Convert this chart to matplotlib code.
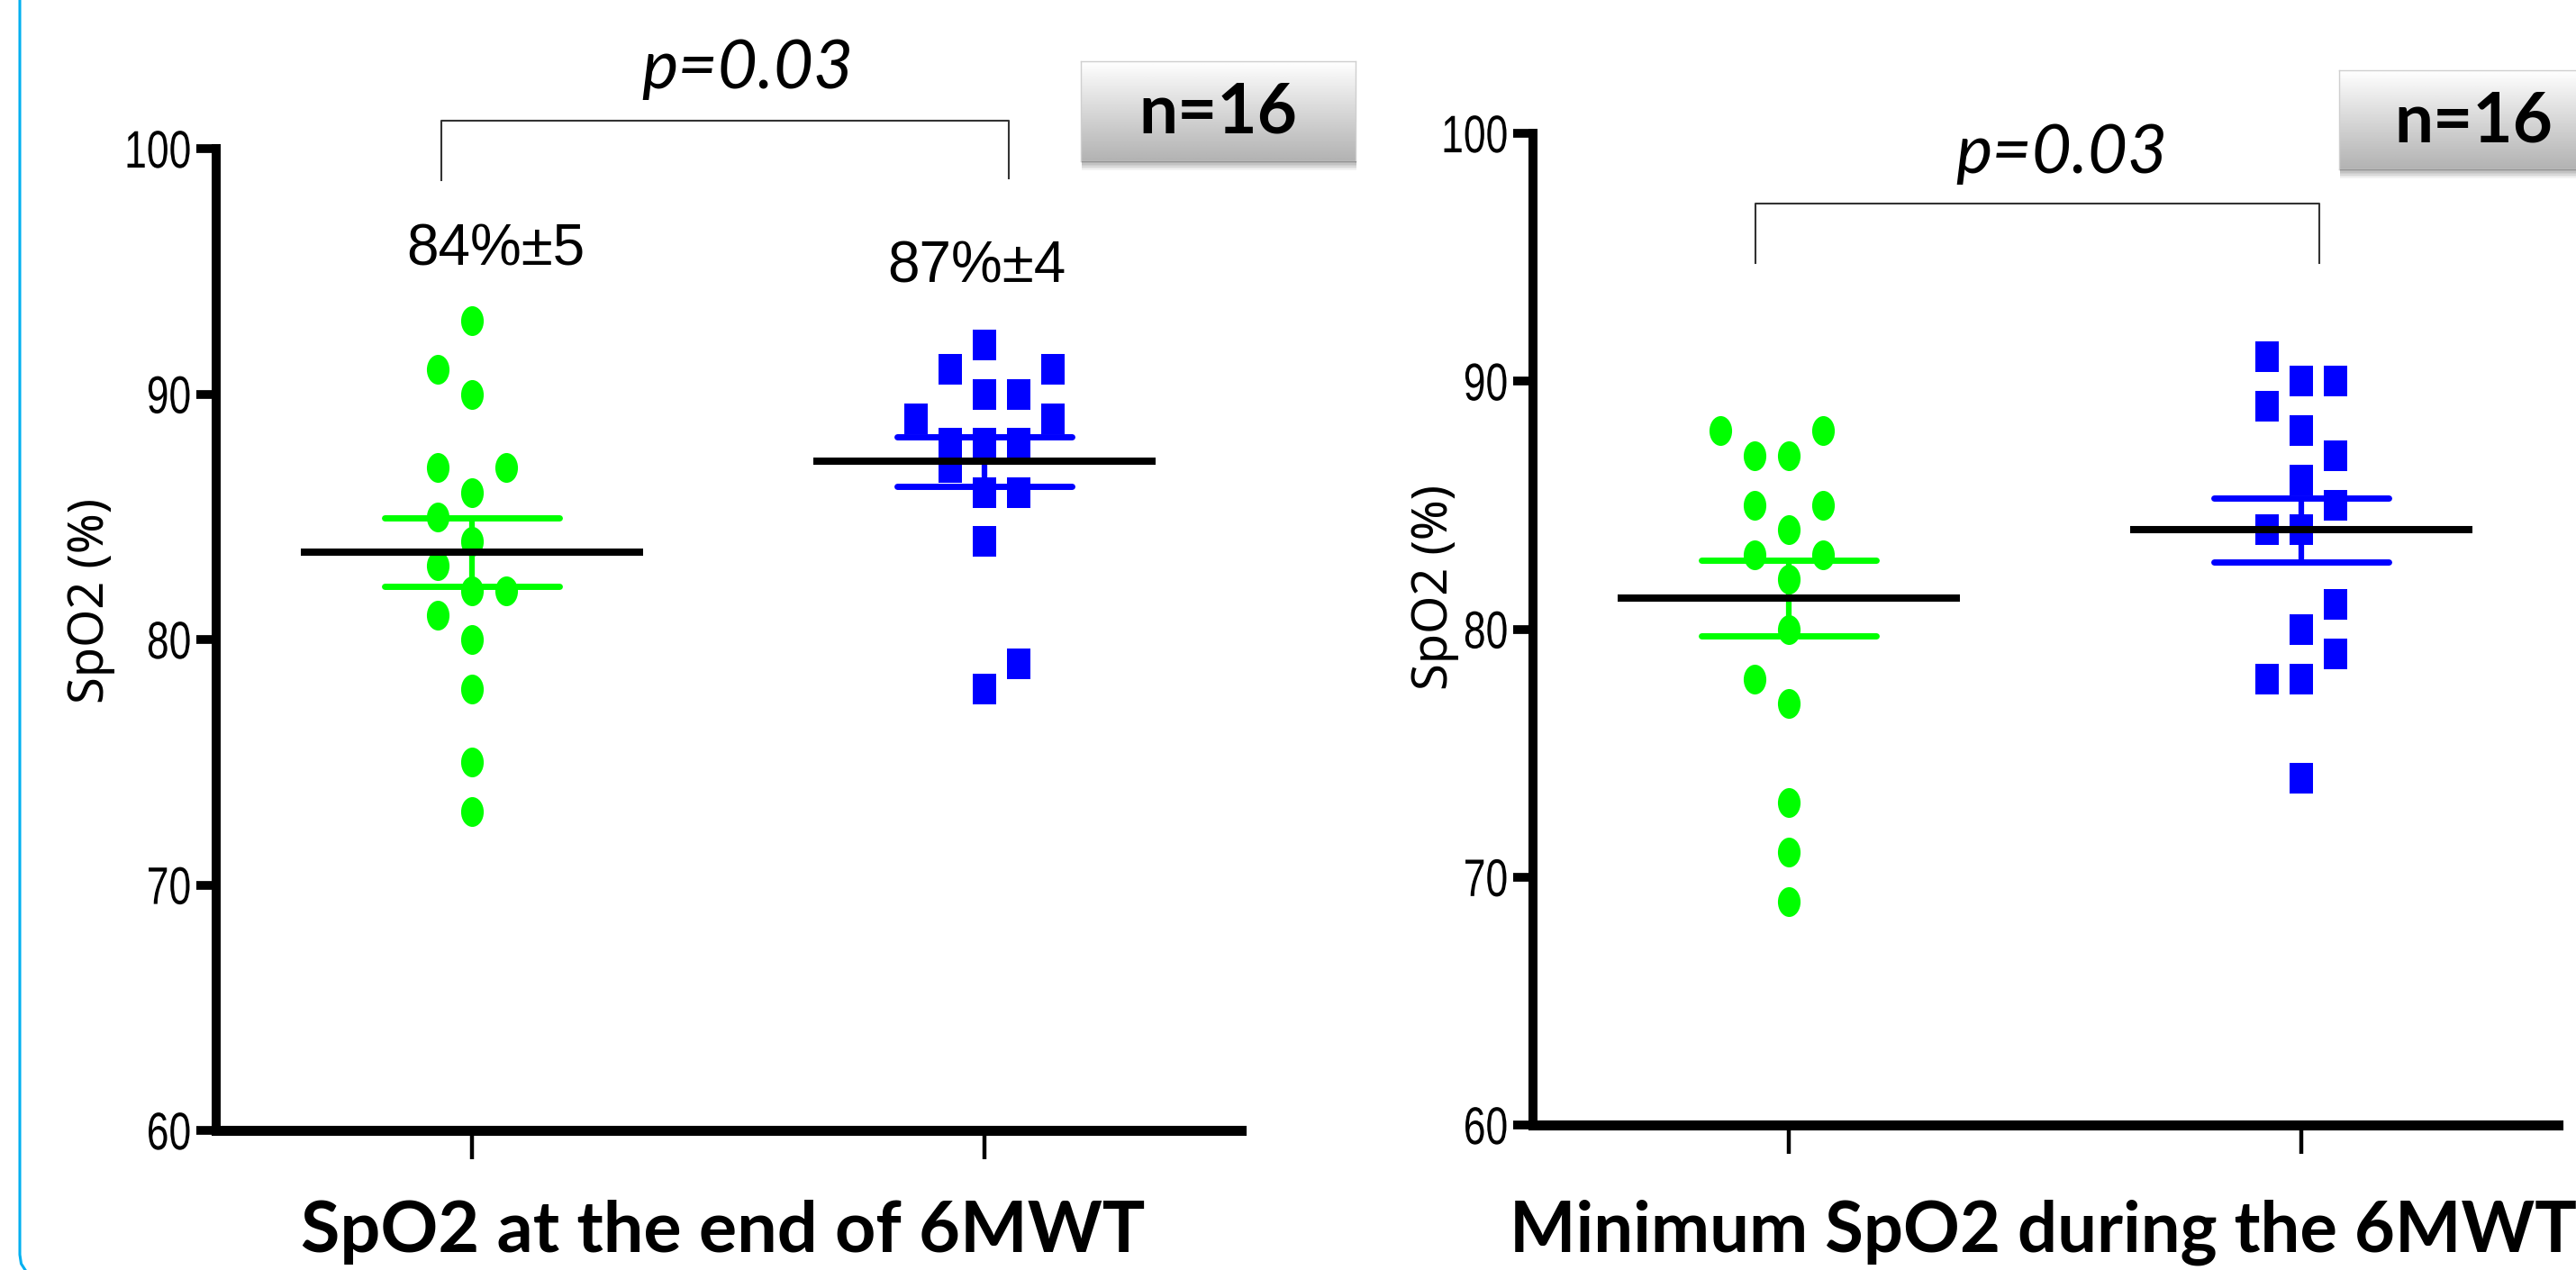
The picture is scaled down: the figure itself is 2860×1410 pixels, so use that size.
import numpy as np
import matplotlib
matplotlib.use("Agg")
import matplotlib.pyplot as plt
from matplotlib.path import Path
from matplotlib.transforms import Affine2D
from matplotlib import font_manager as fm
from matplotlib.patches import Rectangle
from matplotlib.lines import Line2D
from matplotlib.patheffects import AbstractPathEffect

# ---------------- data ----------------
groups = [0, 1]
yticks = [60, 70, 80, 90, 100]
ytick_labels = ["60", "70", "80", "90", "100"]

end_green = [93, 91, 90, 87, 87, 86, 85, 84, 83, 82, 82, 81, 80, 78, 75, 73]
end_blue = [92, 91, 91, 90, 90, 89, 89, 88, 88, 88, 87, 86, 86, 84, 79, 78]
min_green = [88, 88, 87, 87, 85, 85, 84, 83, 83, 82, 80, 78, 77, 73, 71, 69]
min_blue = [91, 90, 90, 89, 88, 87, 86, 85, 84, 84, 81, 80, 79, 78, 78, 74]

# swarm column of each point (layout)
end_green_slot = [0, -1, 0, -1, 1, 0, -1, 0, -1, 0, 1, -1, 0, 0, 0, 0]
end_blue_slot = [0, -1, 2, 0, 1, -2, 2, -1, 0, 1, -1, 0, 1, 0, 1, 0]
min_green_slot = [-2, 1, -1, 0, -1, 1, 0, -1, 1, 0, 0, -1, 0, 0, 0, 0]
min_blue_slot = [-1, 0, 1, -1, 0, 1, 0, 1, -1, 0, 1, 0, 1, -1, 0, 0]

end_labels = ["84%\u00b15", "87%\u00b14"]
p_text = "p=0.03"
n_text = "n=16"
titles = ["SpO2 at the end of 6MWT", "Minimum SpO2 during the 6MWT"]
ylabel = "SpO2 (%)"

# ---------------- fonts ----------------
avail = {f.name for f in fm.fontManager.ttflist}
lato = "Lato" if "Lato" in avail else "DejaVu Sans"
label_font = "Noto Sans" if "Noto Sans" in avail else "DejaVu Sans"


class VStretch(AbstractPathEffect):
    """Stretch glyphs vertically about their middle (the chart image was stretched)."""

    def __init__(self, sy=1.3, mid=35.8):
        super().__init__((0, 0))
        self.sy = sy
        self.mid = mid

    def draw_path(self, renderer, gc, tpath, affine, rgbFace=None):
        t = Affine2D().scale(1.0, self.sy).translate(0, -self.mid * (self.sy - 1)) + affine
        renderer.draw_path(gc, tpath, t, rgbFace)


W, H, DPI = 2860, 1410, 100
fig = plt.figure(figsize=(W / DPI, H / DPI), dpi=DPI)
fig.patch.set_facecolor("white")


def fx(px):
    return px / W


def fy(py):
    return 1 - py / H


def make_axes(x0, x1, ytop, ybot):
    return fig.add_axes([fx(x0), fy(ybot), (x1 - x0) / W, (ybot - ytop) / H])


axL = make_axes(239.5, 1377.5, 165, 1255)
axR = make_axes(1701.5, 2839.5, 148, 1249)

circ = Path.unit_circle().transformed(Affine2D().scale(0.76, 1.0))
sq = Path.unit_rectangle().transformed(Affine2D().translate(-0.5, -0.5).scale(0.78, 1.0))
SLOT = 0.0668
MS = 23.8
colors = ["#00FF00", "#0000FF"]
markers = [circ, sq]

panels = [
    (axL, [end_green, end_blue], [end_green_slot, end_blue_slot], 100, 667),
    (axR, [min_green, min_blue], [min_green_slot, min_blue_slot], 1593, 652),
]

for ax, vals_list, slot_list, lx, ly in panels:
    ax.set_xlim(-0.5, 1.5)
    ax.set_ylim(60, 100)
    for s in ("top", "right"):
        ax.spines[s].set_visible(False)
    ax.spines["left"].set_linewidth(7.2)
    ax.spines["bottom"].set_linewidth(8)
    ax.set_xticks(groups)
    ax.set_xticklabels([])
    ax.tick_params(axis="x", length=23, width=3.2, direction="out")
    ax.set_yticks(yticks)
    ax.set_yticklabels(ytick_labels, family=["Liberation Sans", "DejaVu Sans"], fontsize=32)
    for lab in ax.get_yticklabels():
        lab.set_path_effects([VStretch(1.32)])
    ax.tick_params(axis="y", length=16, width=7, pad=3.6)
    fig.text(fx(lx), fy(ly), ylabel, rotation=90, ha="center", va="center",
             family=[label_font, "DejaVu Sans"], fontsize=39)

    for g, vals, slots, col, mk in zip(groups, vals_list, slot_list, colors, markers):
        v = np.array(vals, dtype=float)
        x = g + np.array(slots) * SLOT
        ax.plot(x, v, ls="none", marker=mk, ms=MS, color=col, mew=0, zorder=3, clip_on=False)
        m = v.mean()
        sem = v.std(ddof=1) / np.sqrt(len(v))
        ax.hlines([m - sem, m + sem], g - 0.17, g + 0.17, color=col, lw=5, capstyle="round", zorder=4)
        ax.vlines(g, m - sem, m + sem, color=col, lw=4.5, zorder=4)
        ax.hlines(m, g - 0.334, g + 0.334, color="black", lw=5.8, zorder=5)

# brackets + p values
axL.plot([-0.06, -0.06, 1.047, 1.047], [98.72, 101.14, 101.14, 98.79], color="#333333", lw=1.5, clip_on=False)
axL.text(0.538, 102.46, p_text, ha="center", va="baseline", fontsize=55, style="italic",
         family=[lato, "DejaVu Sans"], clip_on=False)
axR.plot([-0.065, -0.065, 1.035, 1.035], [94.77, 97.17, 97.17, 94.77], color="#333333", lw=1.5, clip_on=False)
axR.text(0.533, 98.40, p_text, ha="center", va="baseline", fontsize=55, style="italic",
         family=[lato, "DejaVu Sans"], clip_on=False)

# mean +- SD labels
axL.text(0.046, 95.23, end_labels[0], ha="center", va="baseline", fontsize=46,
         family=["Liberation Sans", "DejaVu Sans"])
axL.text(0.984, 94.55, end_labels[1], ha="center", va="baseline", fontsize=46,
         family=["Liberation Sans", "DejaVu Sans"])


# n=16 boxes
def nbox(x0, y0, x1, y1, tx, tby):
    for i in range(6):
        d = 2 + i * 1.6
        fig.patches.append(Rectangle((fx(x0 + 1), fy(y1 + d)), (x1 - x0) / W, d / H,
                                     transform=fig.transFigure, facecolor="black",
                                     alpha=0.05, edgecolor="none", zorder=1))
    bax = fig.add_axes([fx(x0), fy(y1), (x1 - x0) / W, (y1 - y0) / H])
    grad = np.linspace(1.0, 0.80, 200) ** 1.6
    bax.imshow(grad.reshape(-1, 1), aspect="auto", cmap="gray", vmin=0, vmax=1,
               extent=[0, 1, 0, 1], origin="upper", interpolation="bilinear")
    bax.set_xticks([])
    bax.set_yticks([])
    for s in bax.spines.values():
        s.set_color("#cfcfcf")
        s.set_linewidth(1)
    fig.text(fx(tx), fy(tby), n_text, ha="center", va="baseline", fontsize=55,
             fontweight="bold", family=[lato, "DejaVu Sans"], zorder=5)


nbox(1200, 68, 1505, 179, 1352, 148)
nbox(2597, 78, 2900, 188, 2746, 157)

# titles
fig.text(fx(803), fy(1390), titles[0], ha="center", va="baseline", fontsize=57,
         fontweight="bold", family=[lato, "DejaVu Sans"])
fig.text(fx(1676), fy(1390), titles[1], ha="left", va="baseline", fontsize=56,
         fontweight="bold", family=[lato, "DejaVu Sans"])

# slide border line at the left
fig.add_artist(Line2D([fx(22), fx(22), fx(23.5), fx(28)], [fy(0), fy(1393), fy(1403), fy(1410)],
                      color="#00B0F0", lw=2.2, transform=fig.transFigure))

fig.savefig("out.png", dpi=DPI, facecolor="white")
